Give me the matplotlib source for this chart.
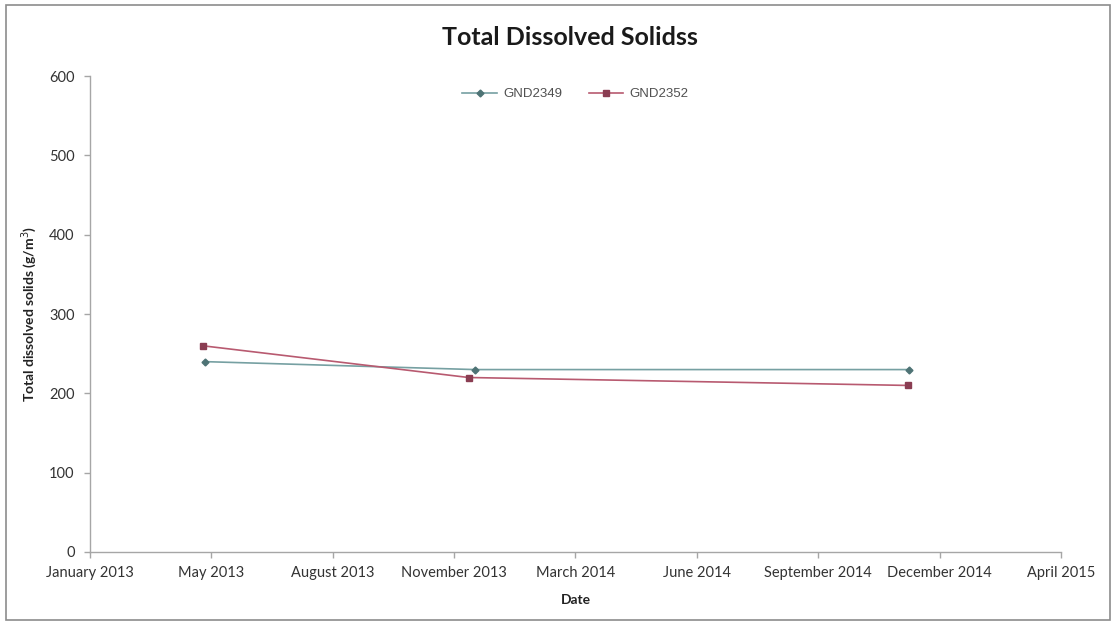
import numpy as np
import pandas as pd
import matplotlib
matplotlib.use("Agg")
from matplotlib import pyplot as plt
import matplotlib.dates as mdates
from matplotlib.patches import Rectangle

plt.rcParams['font.family'] = ['Lato', 'DejaVu Sans']

# sampling dates and results for each bore
dates_2349 = pd.to_datetime(['2013-05-01', '2013-12-09', '2014-12-02'])
tds_2349 = [240, 230, 230]
dates_2352 = pd.to_datetime(['2013-04-29', '2013-12-04', '2014-12-01'])
tds_2352 = [260, 220, 210]

# date axis runs in 100 day steps
axis_start = pd.Timestamp('2013-01-26')
axis_step_days = 100
n_steps = 8
y_ticks = [0, 100, 200, 300, 400, 500, 600]

fig = plt.figure(figsize=(11.16, 6.24), dpi=100)
fig.patches.append(Rectangle((0.005, 0.006), 0.99, 0.986, transform=fig.transFigure,
                             fill=False, edgecolor='#8c8c8c', linewidth=1.2))
ax = fig.add_axes([0.0806, 0.1154, 0.8701, 0.7626])

ax.plot(dates_2349, tds_2349, color='#76a0a2', linewidth=1.2, marker='D',
        markersize=3.5, markerfacecolor='#4e7375', markeredgecolor='#4e7375', label='GND2349')
ax.plot(dates_2352, tds_2352, color='#b85a70', linewidth=1.2, marker='s',
        markersize=5, markerfacecolor='#8a3d52', markeredgecolor='#8a3d52', label='GND2352')

ticks = [axis_start + pd.Timedelta(days=axis_step_days * k) for k in range(n_steps + 1)]
ax.set_xlim(ticks[0], ticks[-1])
ax.set_xticks(ticks)
ax.xaxis.set_major_formatter(mdates.DateFormatter('%B %Y'))
ax.set_ylim(0, 600)
ax.set_yticks(y_ticks)

for side in ['top', 'right']:
    ax.spines[side].set_visible(False)
for side in ['left', 'bottom']:
    ax.spines[side].set_color('#a6a6a6')
    ax.spines[side].set_linewidth(1.0)
ax.tick_params(axis='both', colors='#a6a6a6', length=4, width=1.0, labelsize=10.5,
               labelcolor='#333333')
ax.tick_params(axis='x', pad=6)
ax.tick_params(axis='y', pad=7)

ax.set_xlabel('Date', fontsize=10, fontweight='bold', color='#222222', labelpad=10)
ax.set_ylabel('Total dissolved solids (g/m$^{3}$)', fontsize=10, fontweight='bold',
              color='#222222', labelpad=7)
fig.text(0.511, 0.94, 'Total Dissolved Solidss', ha='center', va='center',
         fontsize=18, fontweight='bold', color='#1a1a1a')

leg = ax.legend(loc='upper center', bbox_to_anchor=(0.5, 1.0), ncol=2, frameon=False,
                prop={'family': 'Liberation Sans', 'size': 9.5}, handlelength=2.6,
                columnspacing=2.0, handletextpad=0.5)
for t in leg.get_texts():
    t.set_color('#505050')

fig.savefig('out.png', dpi=100)
